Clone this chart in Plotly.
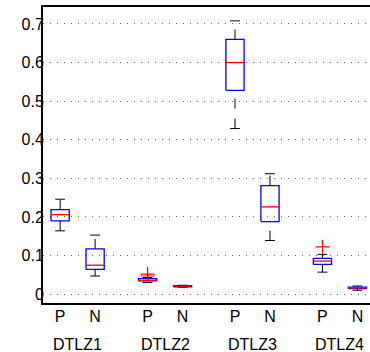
import plotly.graph_objects as go

groups = ["DTLZ1", "DTLZ2", "DTLZ3", "DTLZ4"]
methods = ["P", "N"]

lower_whisker = [0.164, 0.047, 0.030, 0.018, 0.429, 0.139, 0.057, 0.010]
q1 = [0.190, 0.064, 0.0345, 0.019, 0.528, 0.188, 0.077, 0.014]
median = [0.206, 0.075, 0.036, 0.0205, 0.600, 0.226, 0.0855, 0.016]
q3 = [0.219, 0.117, 0.040, 0.022, 0.660, 0.281, 0.0925, 0.018]
upper_whisker = [0.246, 0.153, 0.043, 0.023, 0.708, 0.312, 0.103, 0.021]
outlier_box = [2, 2, 6]
outlier_val = [0.047, 0.052, 0.1225]

positions = []
labels = []
for g in range(len(groups)):
    for m in range(len(methods)):
        positions.append(1 + g * 2.5 + m)
        labels.append(methods[m])

hw = 0.26   # box half width
cw = 0.14   # cap half width

bx, by, mx, my, wx, wy, cx, cy = [], [], [], [], [], [], [], []
for i, p in enumerate(positions):
    bx += [p - hw, p + hw, p + hw, p - hw, p - hw, None]
    by += [q1[i], q1[i], q3[i], q3[i], q1[i], None]
    mx += [p - hw, p + hw, None]
    my += [median[i], median[i], None]
    wx += [p, p, None, p, p, None]
    wy += [lower_whisker[i], q1[i], None, q3[i], upper_whisker[i], None]
    cx += [p - cw, p + cw, None, p - cw, p + cw, None]
    cy += [lower_whisker[i], lower_whisker[i], None, upper_whisker[i], upper_whisker[i], None]

fig = go.Figure()
fig.add_trace(go.Scatter(x=wx, y=wy, mode="lines", line=dict(color="black", width=1, dash="10px,10px"),
                         hoverinfo="skip", showlegend=False))
fig.add_trace(go.Scatter(x=cx, y=cy, mode="lines", line=dict(color="black", width=1),
                         hoverinfo="skip", showlegend=False))
fig.add_trace(go.Scatter(x=bx, y=by, mode="lines", line=dict(color="#0000ff", width=1.3),
                         hoverinfo="skip", showlegend=False))
fig.add_trace(go.Scatter(x=mx, y=my, mode="lines", line=dict(color="#ff0000", width=1.3),
                         hoverinfo="skip", showlegend=False))
fig.add_trace(go.Scatter(x=[positions[i] for i in outlier_box], y=outlier_val, mode="markers",
                         marker=dict(symbol="cross-thin-open", size=10, color="#ff0000",
                                     line=dict(color="#ff0000", width=1.2)),
                         hoverinfo="skip", showlegend=False))

font = dict(family="Liberation Sans, Arial, sans-serif", size=16, color="black")

for g, name in enumerate(groups):
    fig.add_annotation(x=1.5 + g * 2.5, y=0, xref="x", yref="paper", yshift=-31,
                       text=name, showarrow=False, font=font, yanchor="top")

fig.update_layout(
    width=370, height=352,
    margin=dict(l=43, r=0, t=7, b=49),
    plot_bgcolor="white", paper_bgcolor="white",
    font=font,
    xaxis=dict(range=[0.51, 9.86], tickvals=positions, ticktext=labels, showgrid=False,
               zeroline=False, showline=True, linecolor="black", linewidth=2, mirror=True,
               ticks="", ticklabelstandoff=-2, tickfont=font),
    yaxis=dict(range=[-0.023, 0.744], tickvals=[0, 0.1, 0.2, 0.3, 0.4, 0.5, 0.6, 0.7],
               ticktext=["0", "0.1", "0.2", "0.3", "0.4", "0.5", "0.6", "0.7"],
               showgrid=True, gridcolor="#666666", gridwidth=1, griddash="1px,6px",
               zeroline=False, showline=True, linecolor="black", linewidth=2,
               ticks="", ticklabelstandoff=-6, tickfont=font),
)

fig.write_html("out.html")
